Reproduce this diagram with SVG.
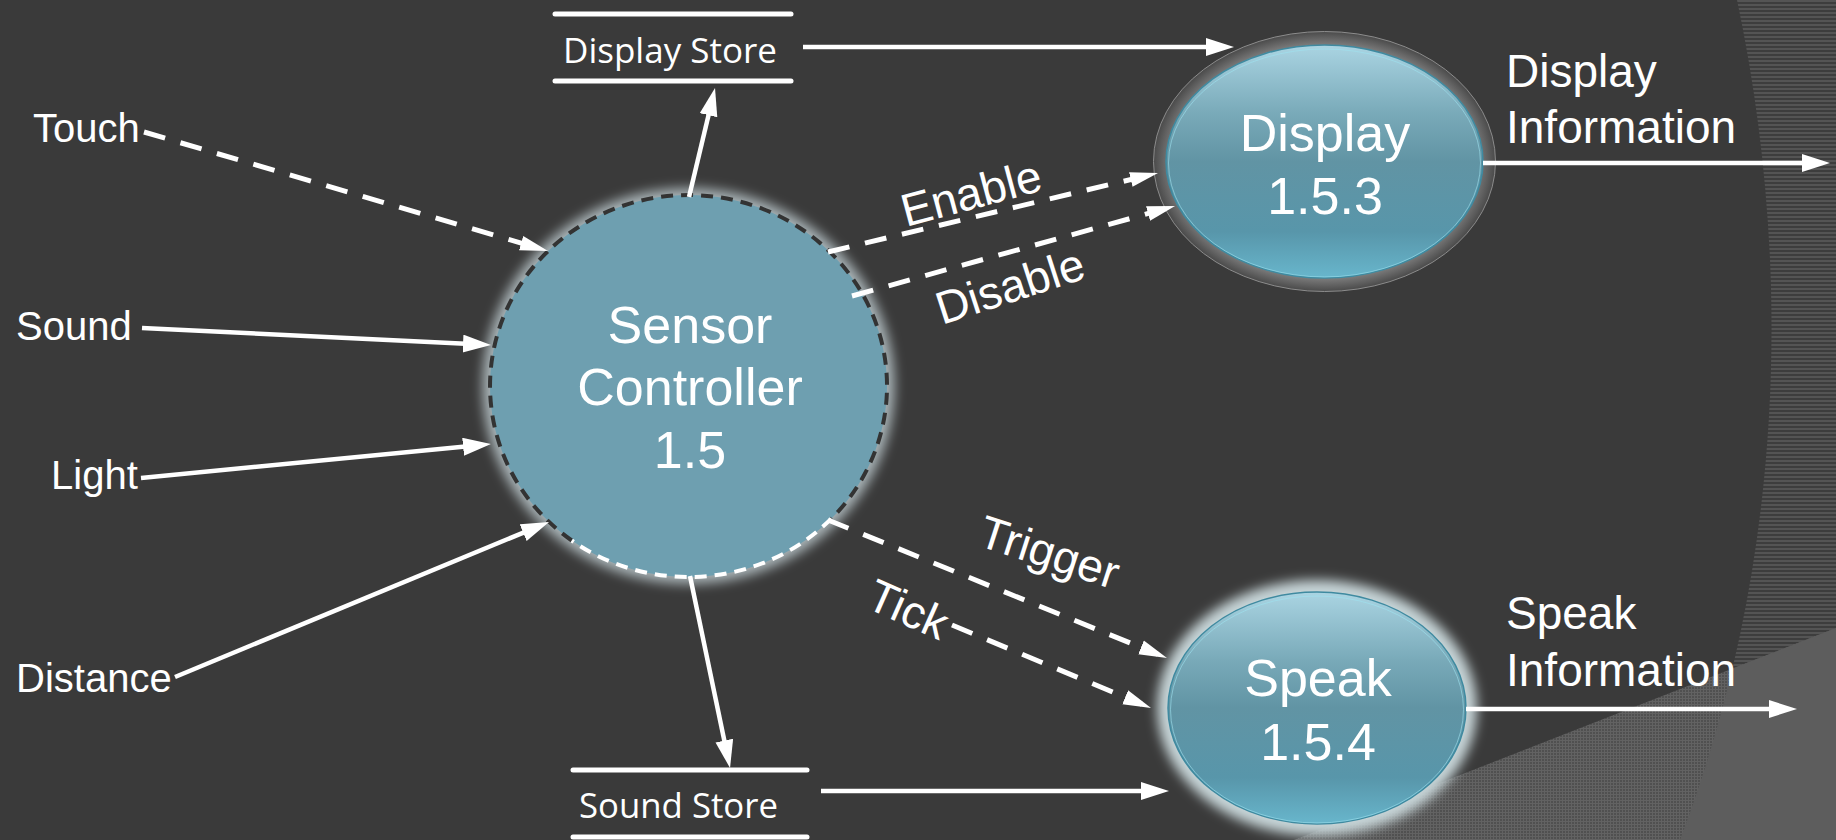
<svg xmlns="http://www.w3.org/2000/svg" width="1836" height="840" viewBox="0 0 1836 840">
<style>
  .lbl { font-family: "Liberation Sans", Arial, sans-serif; fill: #ffffff; }
  .store { font-family: "Open Sans", "Noto Sans", sans-serif; fill: #ffffff; font-size: 35px; }
  .node { font-family: "Liberation Sans", Arial, sans-serif; fill: #ffffff; font-size: 52px; text-anchor: middle; }
  .solid { stroke: #ffffff; stroke-width: 4.5; fill: none; marker-end: url(#ah); }
  .dash { stroke: #ffffff; stroke-width: 5; fill: none; stroke-dasharray: 22 16; marker-end: url(#ahd); }
  .bar { stroke: #ffffff; stroke-width: 5; stroke-linecap: round; }
</style>
<defs>
  <marker id="ah" markerUnits="userSpaceOnUse" markerWidth="30" markerHeight="20" refX="18" refY="9" orient="auto">
    <path d="M0,0 L28,9 L0,18 Z" fill="#ffffff"/>
  </marker>
  <marker id="ahd" markerUnits="userSpaceOnUse" markerWidth="30" markerHeight="20" refX="18" refY="9" orient="auto">
    <path d="M0,1.5 L28,9 L0,16.5 Z" fill="#ffffff"/>
  </marker>
  <pattern id="hstripe" width="4" height="4" patternUnits="userSpaceOnUse">
    <rect width="4" height="4" fill="#3d3d3d"/>
    <rect width="4" height="2" fill="#545454"/>
  </pattern>
  <pattern id="grid" width="3" height="3" patternUnits="userSpaceOnUse">
    <rect width="3" height="3" fill="#626262"/>
    <rect width="2" height="2" fill="#505050"/>
  </pattern>
  <clipPath id="arcClip">
    <path d="M1737,0 C1790,250 1790,550 1680,840 L1836,840 L1836,0 Z"/>
  </clipPath>
  <filter id="blur6" x="-20%" y="-20%" width="140%" height="140%">
    <feGaussianBlur stdDeviation="6"/>
  </filter>
  <filter id="blur3" x="-20%" y="-20%" width="140%" height="140%">
    <feGaussianBlur stdDeviation="3"/>
  </filter>
  <linearGradient id="blueGrad" x1="0" y1="0" x2="0" y2="1">
    <stop offset="0" stop-color="#aad4e2"/>
    <stop offset="0.3" stop-color="#78a9b8"/>
    <stop offset="0.5" stop-color="#6194a4"/>
    <stop offset="0.8" stop-color="#5896aa"/>
    <stop offset="1" stop-color="#68b6cc"/>
  </linearGradient>
  <radialGradient id="ringGrad" cx="0.5" cy="0.5" r="0.5">
    <stop offset="0.88" stop-color="#858585"/>
    <stop offset="1" stop-color="#4a4a4a"/>
  </radialGradient>
</defs>

<g id="background">
  <rect width="1836" height="840" fill="#3a3a3a"/>
  <path d="M1737,0 C1790,250 1790,550 1680,840 L1836,840 L1836,0 Z" fill="url(#hstripe)"/>
  <path d="M1294,840 L1836,628 L1836,840 Z" fill="url(#grid)"/>
  <path d="M1294,840 L1836,628 L1836,840 Z" fill="#5d5d5d" clip-path="url(#arcClip)"/>
</g>

<g id="node-sensor">
  <ellipse cx="688.5" cy="386" rx="206" ry="198" fill="#a9b4b7" filter="url(#blur6)"/>
  <ellipse cx="688.5" cy="386" rx="198.5" ry="191" fill="#6e9fb0"/>
  <path d="M571.8,540.5 A198.5,191 0 1 1 831.3,518.7" fill="none" stroke="#333333" stroke-width="4" stroke-dasharray="12 8"/>
  <path d="M831.3,518.7 A198.5,191 0 0 1 571.8,540.5" fill="none" stroke="#ffffff" stroke-width="4" stroke-dasharray="12 8"/>
  <text class="node" x="690" y="343">Sensor</text>
  <text class="node" x="690" y="405">Controller</text>
  <text class="node" x="690" y="468">1.5</text>
</g>

<g id="node-display">
  <ellipse cx="1324.5" cy="161.5" rx="171" ry="130" fill="url(#ringGrad)" stroke="#8c8c8c" stroke-width="1"/>
  <ellipse cx="1324.5" cy="161.5" rx="158.5" ry="116.5" fill="url(#blueGrad)" stroke="#3f8aa0" stroke-width="1.5"/>
  <ellipse cx="1324.5" cy="163" rx="156" ry="114" fill="none" stroke="#9fe3f0" stroke-width="1" opacity="0.6"/>
  <text class="node" x="1325" y="151">Display</text>
  <text class="node" x="1325" y="214">1.5.3</text>
</g>

<g id="node-speak">
  <ellipse cx="1317" cy="708" rx="160" ry="128" fill="#c6d4d7" filter="url(#blur6)"/>
  <ellipse cx="1317" cy="708" rx="149" ry="116" fill="url(#blueGrad)" stroke="#3f8aa0" stroke-width="1.5"/>
  <ellipse cx="1317" cy="709.5" rx="146.5" ry="113.5" fill="none" stroke="#9fe3f0" stroke-width="1" opacity="0.6"/>
  <text class="node" x="1318" y="696">Speak</text>
  <text class="node" x="1318" y="760">1.5.4</text>
</g>

<g id="store-display">
  <line class="bar" x1="555" y1="14" x2="791" y2="14"/>
  <line class="bar" x1="555" y1="81" x2="791" y2="81"/>
  <text class="store" x="563" y="63" textLength="214" lengthAdjust="spacingAndGlyphs">Display Store</text>
</g>

<g id="store-sound">
  <line class="bar" x1="573" y1="770" x2="807" y2="770"/>
  <line class="bar" x1="573" y1="837" x2="807" y2="837"/>
  <text class="store" x="579" y="818" textLength="199" lengthAdjust="spacingAndGlyphs">Sound Store</text>
</g>

<g id="source-touch"><text class="lbl" font-size="40" x="33" y="142">Touch</text></g>
<g id="source-sound"><text class="lbl" font-size="40" x="16" y="340">Sound</text></g>
<g id="source-light"><text class="lbl" font-size="40" x="51" y="489">Light</text></g>
<g id="source-distance"><text class="lbl" font-size="40" x="16" y="692">Distance</text></g>
<g id="sink-display-info">
  <text class="lbl" font-size="46" x="1506" y="87">Display</text>
  <text class="lbl" font-size="46" x="1506" y="143">Information</text>
</g>
<g id="sink-speak-info">
  <text class="lbl" font-size="46" x="1506" y="629">Speak</text>
  <text class="lbl" font-size="46" x="1506" y="686">Information</text>
</g>

<g id="connectors">
  <line class="dash" x1="144" y1="132" x2="538.4" y2="248.2"/>
  <line class="solid" x1="142" y1="328" x2="481" y2="344.5"/>
  <line class="solid" x1="141" y1="478" x2="481" y2="445"/>
  <line class="solid" x1="175" y1="677" x2="539.8" y2="525.8"/>
  <line class="solid" x1="689" y1="197" x2="712.7" y2="97.7"/>
  <line class="solid" x1="690" y1="576" x2="728" y2="758.2"/>
  <line class="solid" x1="803" y1="47" x2="1224" y2="47"/>
  <line class="solid" x1="821" y1="791" x2="1159" y2="791"/>
  <line class="solid" x1="1483" y1="163" x2="1820" y2="163"/>
  <line class="solid" x1="1466" y1="709" x2="1787" y2="709"/>
  <line class="dash" x1="828" y1="252" x2="1148.3" y2="175.3"/>
  <line class="dash" x1="852" y1="296" x2="1165.4" y2="208.7"/>
  <line class="dash" x1="828" y1="520" x2="1157.7" y2="654.2"/>
  <line class="dash" x1="952" y1="625" x2="1141.8" y2="704.2"/>
  <text class="lbl" font-size="46" transform="translate(906,227) rotate(-15)">Enable</text>
  <text class="lbl" font-size="46" transform="translate(942,325) rotate(-18)">Disable</text>
  <text class="lbl" font-size="46" transform="translate(976,545) rotate(18)">Trigger</text>
  <text class="lbl" font-size="46" transform="translate(864,607) rotate(24)">Tick</text>
</g>
</svg>
